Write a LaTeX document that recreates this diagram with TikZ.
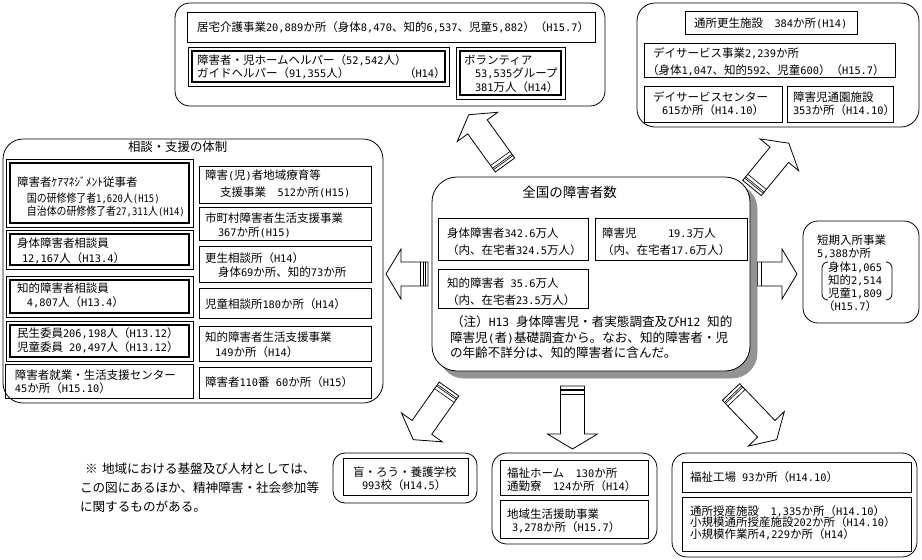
\documentclass[tikz,border=0pt]{standalone}
\usepackage{fontspec}
\setmainfont{Noto Sans CJK JP}
\newfontfamily\hwfont[Scale=0.9]{DejaVu Sans Mono}
\newcommand{\hw}[1]{{\hwfont #1}}
\usetikzlibrary{fit}
\tikzset{
  txt/.style={inner sep=0pt, outer sep=0pt, anchor=base west, font=\fontsize{11.5}{13}\selectfont},
  bigtxt/.style={txt, font=\fontsize{12.6}{14}\selectfont},
  bx/.style={draw, line width=0.8pt, inner sep=0pt, outer sep=0pt},
  rbx/.style={draw, line width=0.8pt, inner sep=0pt, outer sep=0pt, rounded corners=#1},
  thickln/.style={line width=2.8pt},
  blk/.style={draw, line width=0.8pt, fill=white, line join=miter},
  stripe/.style={line width=0.6pt},
}
\newcommand{\tline}[4]{\node[txt] (#1) at ({#2},{#3+4.4}) {#4};}
\newcommand{\bline}[4]{\node[bigtxt] (#1) at ({#2},{#3+4.8}) {#4};}
\newcommand{\mkbox}[5]{\node[bx, fit={(#2,#3) (#4,#5)}] (#1) {};}
\newcommand{\mkdbox}[5]{\mkbox{#1}{#2}{#3}{#4}{#5}\draw[thickln] ({#2+4},{#3+4}) rectangle ({#4-4},{#5-4});}
\newcommand{\mkcont}[6]{\node[rbx=#6, fit={(#2,#3) (#4,#5)}] (#1) {};}
\newcommand{\blockarr}[5]{%
  \begin{scope}[shift={(#2,#3)}, rotate=#4]
    \draw[blk] (0,12) -- ({#5-15},12) -- ({#5-15},25) -- (#5,0) -- ({#5-15},-25) -- ({#5-15},-12) -- (0,-12) -- cycle;
    \draw[stripe] (3,12) -- (3,-12) (4.6,12) -- (4.6,-12) (8,12) -- (8,-12);
    \coordinate (#1) at (#5,0);
  \end{scope}}
\begin{document}
\begin{tikzpicture}[x=1pt,y=-1pt]
\useasboundingbox (0,0) rectangle (922,560);
\fill[white] (0,0) rectangle (922,560);

% ---------- arrows ----------
\blockarr{aUL}{505}{165}{125.8}{62}
\blockarr{aUR}{752}{188}{50.6}{58}
\blockarr{aL}{428}{274}{180}{42}
\blockarr{aR}{753}{274}{0}{44}
\blockarr{aDL}{449}{389}{234.8}{62}
\blockarr{aD}{572.5}{386}{270}{63}
\blockarr{aDR}{731}{392}{-46.2}{66}

% ---------- top centre ----------
\mkcont{tc}{175}{3}{605}{106}{15pt}
\mkbox{b1}{187}{12}{595}{42}
\tline{t1}{197}{27}{居宅介護事業\hw{20,889}か所（身体\hw{8,470}、知的\hw{6,537}、児童\hw{5,882}）（\hw{H15.7}）}
\mkdbox{b2}{188}{47}{449}{86}
\tline{t2}{197}{60}{障害者・児ホームヘルパー（\hw{52,542}人）}
\tline{t3}{197}{73}{ガイドヘルパー（\hw{91,355}人）}
\tline{t4}{404}{73}{（\hw{H14}）}
\mkdbox{b3}{456}{47}{565}{99}
\tline{t5}{464}{60}{ボランティア}
\tline{t6}{475}{73}{\hw{53,535}グループ}
\tline{t7}{475}{87}{\hw{381}万人（\hw{H14}）}

% ---------- top right ----------
\mkcont{tr}{637}{3}{919}{127}{18pt}
\mkbox{b4}{685}{11}{857}{34}
\tline{t8}{694}{23}{通所更生施設　\hw{384}か所\hw{(H14)}}
\mkbox{b5}{644}{43}{895}{77}
\tline{t9}{653}{53}{デイサービス事業\hw{2,239}か所}
\tline{t10}{647}{70}{（身体\hw{1,047}、知的\hw{592}、児童\hw{600}）（\hw{H15.7}）}
\mkbox{b6}{644}{86}{782}{122}
\tline{t11}{653}{97}{デイサービスセンター}
\tline{t12}{662}{110}{\hw{615}か所（\hw{H14.10}）}
\mkbox{b7}{787}{86}{893}{122}
\tline{t13}{793}{97}{障害児通園施設}
\tline{t14}{793}{110}{\hw{353}か所（\hw{H14.10}）}

% ---------- left ----------
\mkcont{lc}{3}{139}{383}{403}{20pt}
\node[txt, font=\fontsize{12.4}{14}\selectfont] (lctitle) at (128,151.5) {相談・支援の体制};
\mkdbox{bA}{6}{159}{193}{227}
\tline{t16}{17}{182}{障害者ｹｱﾏﾈｼﾞﾒﾝﾄ従事者}
\tline{t17}{27}{198}{\scalebox{0.86}[1]{国の研修修了者\hw{1,620}人\hw{(H15)}}}
\tline{t18}{27}{211}{\scalebox{0.86}[1]{自治体の研修修了者\hw{27,311}人\hw{(H14)}}}
\mkdbox{bB}{6}{230}{193}{269}
\tline{t19}{17}{243}{身体障害者相談員}
\tline{t20}{22}{258}{\hw{12,167}人（\hw{H13.4}）}
\mkdbox{bC}{6}{276}{193}{317}
\tline{t21}{17}{288}{知的障害者相談員}
\tline{t22}{27}{302}{\hw{4,807}人（\hw{H13.4}）}
\mkdbox{bD}{6}{321}{193}{361}
\tline{t23}{17}{333}{民生委員\hw{206,198}人（\hw{H13.12}）}
\tline{t24}{17}{347}{児童委員\hw{ 20,497}人（\hw{H13.12}）}
\mkbox{bE}{5}{364}{193}{398}
\tline{t25}{15}{375}{障害者就業・生活支援センター}
\tline{t26}{15}{388}{\hw{45}か所（\hw{H15.10}）}

\mkbox{bF}{199}{166}{371}{203}
\tline{t27}{205}{175}{障害\hw{(}児\hw{)}者地域療育等}
\tline{t28}{220}{192}{支援事業　\hw{512}か所\hw{(H15)}}
\mkbox{bG}{199}{207}{371}{240}
\tline{t29}{205}{218}{市町村障害者生活支援事業}
\tline{t30}{218}{232}{\hw{367}か所\hw{(H15)}}
\mkbox{bH}{199}{246}{371}{282}
\tline{t31}{205}{258}{更生相談所（\hw{H14}）}
\tline{t32}{218}{272}{身体\hw{69}か所、知的\hw{73}か所}
\mkbox{bI}{199}{288}{371}{318}
\tline{t33}{205}{304}{児童相談所\hw{180}か所（\hw{H14}）}
\mkbox{bJ}{199}{326}{371}{361}
\tline{t34}{205}{337}{知的障害者生活支援事業}
\tline{t35}{215}{352}{\hw{149}か所（\hw{H14}）}
\mkbox{bK}{199}{367}{371}{398}
\tline{t36}{205}{382}{障害者\hw{110}番\hw{ 60}か所（\hw{H15}）}

% ---------- centre ----------
\node[rbx=25pt, draw=gray!85, fill=gray!85, fit={(439,184) (757,378)}] (ccshadow) {};
\node[rbx=25pt, fill=white, fit={(432,177) (750,371)}] (cc) {};
\node[txt, anchor=base, font=\fontsize{13.5}{15}\selectfont] (cctitle) at (569.5,197) {全国の障害者数};
\mkbox{bL}{438}{218}{588}{260}
\tline{t38}{447}{233}{身体障害者\hw{342.6}万人}
\tline{t39}{447}{250}{（内、在宅者\hw{324.5}万人）}
\mkbox{bM}{595}{218}{747}{260}
\tline{t40}{602}{233}{障害児}
\tline{t41}{668}{233}{\hw{19.3}万人}
\tline{t42}{602}{250}{（内、在宅者\hw{17.6}万人）}
\mkbox{bN}{438}{269}{588}{308}
\tline{t43}{447}{283}{知的障害者\hw{ 35.6}万人}
\tline{t44}{447}{300}{（内、在宅者\hw{23.5}万人）}
\bline{t45}{451}{322}{（注）\hw{H13 }身体障害児・者実態調査及び\hw{H12 }知的}
\bline{t46}{450}{338}{障害児\hw{(}者\hw{)}基礎調査から。なお、知的障害者・児}
\bline{t47}{450}{353}{の年齢不詳分は、知的障害者に含んだ。}

% ---------- right ----------
\mkcont{cr}{803}{221}{919}{323}{15pt}
\tline{t48}{817}{240}{短期入所事業}
\tline{t49}{817}{253}{\hw{5,388}か所}
\tline{t50}{828}{267}{身体\hw{1,065}}
\tline{t51}{828}{280}{知的\hw{2,514}}
\tline{t52}{828}{293}{児童\hw{1,809}}
\tline{t53}{823}{306}{（\hw{H15.7}）}
\draw[line width=0.8pt] (828,262) to[out=180,in=90] (822,268) -- (822,294) to[out=-90,in=180] (828,300);
\draw[line width=0.8pt] (886,262) to[out=0,in=90] (892,268) -- (892,294) to[out=-90,in=0] (886,300);

% ---------- bottom note ----------
\bline{t54}{85}{469}{※}
\bline{t55}{102}{469}{地域における基盤及び人材としては、}
\bline{t56}{80}{488}{この図にあるほか、精神障害・社会参加等}
\bline{t57}{80}{507}{に関するものがある。}

% ---------- bottom boxes ----------
\mkcont{cb1}{333}{453}{477}{503}{12pt}
\mkbox{b8}{343}{458}{468}{495}
\tline{t58}{353}{472}{盲・ろう・養護学校}
\tline{t59}{362}{485}{\hw{993}校（\hw{H14.5}）}

\mkcont{cb2}{492}{453}{657}{544}{15pt}
\mkbox{b9}{500}{460}{648}{495}
\tline{t60}{507}{473}{福祉ホーム　\hw{130}か所}
\tline{t61}{507}{486}{通勤寮　\hw{124}か所（\hw{H14}）}
\mkbox{b10}{500}{500}{648}{538}
\tline{t62}{507}{514}{地域生活援助事業}
\tline{t63}{512}{527}{\hw{3,278}か所（\hw{H15.7}）}

\mkcont{cb3}{672}{453}{917}{557}{15pt}
\mkbox{b11}{682}{462}{911}{492}
\tline{t64}{690}{477}{福祉工場\hw{ 93}か所（\hw{H14.10}）}
\mkbox{b12}{682}{497}{911}{551}
\tline{t65}{690}{511}{通所授産施設　\hw{1,335}か所（\hw{H14.10}）}
\tline{t66}{690}{522}{小規模通所授産施設\hw{202}か所（\hw{H14.10}）}
\tline{t67}{690}{534}{小規模作業所\hw{4,229}か所（\hw{H14}）}
\end{tikzpicture}
\end{document}
